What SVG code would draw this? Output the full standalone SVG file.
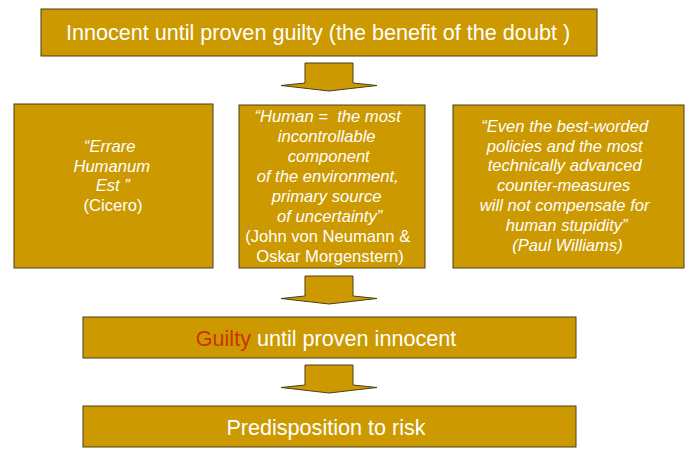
<svg xmlns="http://www.w3.org/2000/svg" width="685" height="450" viewBox="0 0 685 450">
  <defs>
    <style>
      .box { fill: #CC9900; stroke: #4a3f1c; stroke-width: 1; }
      .arrow { fill: #CC9900; stroke: #4a3f1c; stroke-width: 1; stroke-linejoin: miter; }
      .big { font-family: "Liberation Sans", Arial, sans-serif; font-size: 21.6px; fill: #ffffff; text-anchor: middle; }
      .quote { font-family: "Liberation Sans", Arial, sans-serif; font-size: 16.6px; fill: #ffffff; text-anchor: middle; }
      .it { font-style: italic; }
      .red { fill: #CC3300; }
    </style>
  </defs>

  <rect width="685" height="450" fill="#ffffff"/>

  <!-- downward block arrows -->
  <g id="connectors">
    <polygon class="arrow" points="305,63 353,63 353,83 377,85.5 329,91 281,85.5 305,83"/>
    <polygon class="arrow" points="305,276 353,276 353,296 377,298.5 329,304 281,298.5 305,296"/>
    <polygon class="arrow" points="305,365 353,365 353,385 377,387.5 329,393 281,387.5 305,385"/>
  </g>

  <g id="innocent">
    <rect class="box" x="41" y="9" width="556" height="47"/>
    <text class="big" x="318" y="40">Innocent until proven guilty (the benefit of the doubt )</text>
  </g>

  <g id="cicero">
    <rect class="box" x="14" y="104" width="199" height="164"/>
    <text class="quote">
      <tspan class="it" x="112" y="152">“Errare</tspan>
      <tspan class="it" x="114" y="172">Humanum</tspan>
      <tspan class="it" x="115" y="191">Est ”</tspan>
      <tspan x="113" y="211">(Cicero)</tspan>
    </text>
  </g>

  <g id="neumann">
    <rect class="box" x="239" y="105" width="186" height="163"/>
    <text class="quote">
      <tspan class="it" x="330" y="122">“Human =&#160; the most</tspan>
      <tspan class="it" x="329" y="142">incontrollable</tspan>
      <tspan class="it" x="331" y="162">component</tspan>
      <tspan class="it" x="330" y="182">of the environment,</tspan>
      <tspan class="it" x="329" y="202">primary source</tspan>
      <tspan class="it" x="332" y="222">of uncertainty”</tspan>
      <tspan x="330" y="242">(John von Neumann &amp;</tspan>
      <tspan x="330" y="262">Oskar Morgenstern)</tspan>
    </text>
  </g>

  <g id="williams">
    <rect class="box" x="453" y="105" width="231" height="163"/>
    <text class="quote it">
      <tspan x="567" y="132">“Even the best-worded</tspan>
      <tspan x="567" y="151.5">policies and the most</tspan>
      <tspan x="567" y="171">technically advanced</tspan>
      <tspan x="566" y="191">counter-measures</tspan>
      <tspan x="567" y="211">will not compensate for</tspan>
      <tspan x="569" y="231">human stupidity”</tspan>
      <tspan x="567.5" y="251">(Paul Williams)</tspan>
    </text>
  </g>

  <g id="guilty">
    <rect class="box" x="83" y="317" width="493" height="41"/>
    <text class="big" x="326" y="346"><tspan class="red">Guilty</tspan> until proven innocent</text>
  </g>

  <g id="predisposition">
    <rect class="box" x="83" y="406" width="493" height="41"/>
    <text class="big" x="326" y="435">Predisposition to risk</text>
  </g>
</svg>
